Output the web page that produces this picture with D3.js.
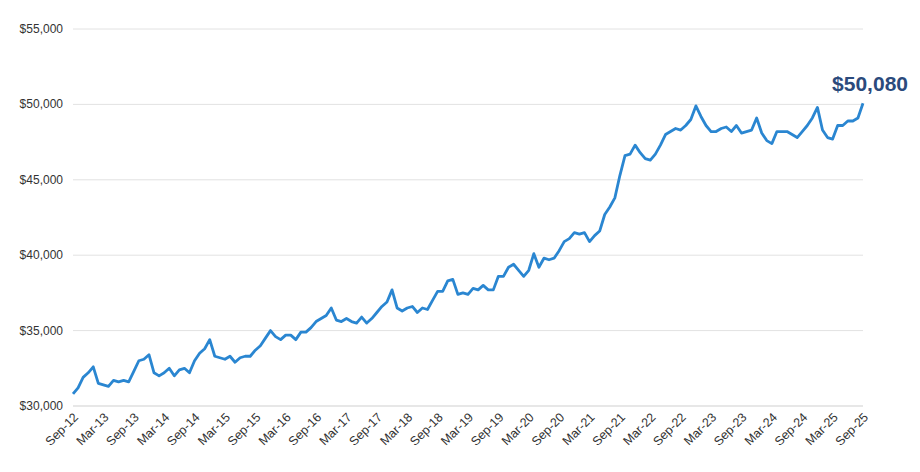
<!DOCTYPE html><html><head><meta charset="utf-8"><script src="https://cdn.jsdelivr.net/npm/d3@7"></script>
<style>body{margin:0;background:#fff}svg{font-family:"Liberation Sans",Arial,sans-serif}</style></head><body><svg id="c" width="920" height="472"></svg>
<script>
const startMonth = "2012-09";
const values2012 = [30800,31200,31900,32200];
const values2013 = [32600,31500,31400,31300,31700,31600,31700,31600,32300,33000,33100,33400];
const values2014 = [32200,32000,32200,32500,32000,32400,32500,32200,33000,33500,33800,34400];
const values2015 = [33300,33200,33100,33300,32900,33200,33300,33300,33700,34000,34500,35000];
const values2016 = [34600,34400,34700,34700,34400,34900,34900,35200,35600,35800,36000,36500];
const values2017 = [35700,35600,35800,35600,35500,35900,35500,35800,36200,36600,36900,37700];
const values2018 = [36500,36300,36500,36600,36200,36500,36400,37000,37600,37600,38300,38400];
const values2019 = [37400,37500,37400,37800,37700,38000,37700,37700,38600,38600,39200,39400];
const values2020 = [39000,38600,39000,40100,39200,39800,39700,39800,40300,40900,41100,41500];
const values2021 = [41400,41500,40900,41300,41600,42700,43200,43800,45300,46600,46700,47300];
const values2022 = [46800,46400,46300,46700,47300,48000,48200,48400,48300,48600,49000,49900];
const values2023 = [49200,48600,48200,48200,48400,48500,48200,48600,48100,48200,48300,49100];
const values2024 = [48100,47600,47400,48200,48200,48200,48000,47800,48200,48600,49100,49800];
const values2025 = [48300,47800,47700,48600,48600,48900,48900,49100,50080];
const yTicks = [30000,35000,40000,45000,50000,55000];
const xTickLabels = ["Sep-12","Mar-13","Sep-13","Mar-14","Sep-14","Mar-15","Sep-15","Mar-16","Sep-16","Mar-17","Sep-17","Mar-18","Sep-18","Mar-19","Sep-19","Mar-20","Sep-20","Mar-21","Sep-21","Mar-22","Sep-22","Mar-23","Sep-23","Mar-24","Sep-24","Mar-25","Sep-25"];
const endLabel = "$50,080";

const vals = [].concat(values2012,values2013,values2014,values2015,values2016,values2017,values2018,values2019,values2020,values2021,values2022,values2023,values2024,values2025);
const svg = d3.select("#c");
const x = d3.scaleLinear().domain([0, vals.length-1]).range([73, 863]);
const y = d3.scaleLinear().domain([30000,55000]).range([406, 29]);

const ga = svg.append("g");
ga.selectAll("line").data(yTicks).join("line")
  .attr("x1",73).attr("x2",863).attr("y1",d=>y(d)).attr("y2",d=>y(d))
  .attr("stroke",d=>d===30000?"#cfcfcf":"#e2e2e2").attr("stroke-width",1);
ga.selectAll("text").data(yTicks).join("text")
  .attr("x",63).attr("y",d=>y(d)+4).attr("text-anchor","end")
  .attr("font-size",12).attr("fill","#333").text(d=>"$"+d3.format(",")(d));

svg.append("g").selectAll("text").data(xTickLabels).join("text")
  .attr("transform",(d,i)=>`translate(${x(i*6)+6},${418}) rotate(-45)`)
  .attr("text-anchor","end").attr("font-size",12.5).attr("fill","#333").text(d=>d);

svg.append("path").datum(vals)
  .attr("d", d3.line().x((d,i)=>x(i)).y(d=>y(d)))
  .attr("fill","none").attr("stroke","#2a86d1").attr("stroke-width",2.8).attr("stroke-linejoin","round");

svg.append("text").attr("x",908).attr("y",y(50080)-12).attr("text-anchor","end")
  .attr("font-size",21).attr("font-weight","bold").attr("fill","#2b4a7c").text(endLabel);
</script></body></html>
